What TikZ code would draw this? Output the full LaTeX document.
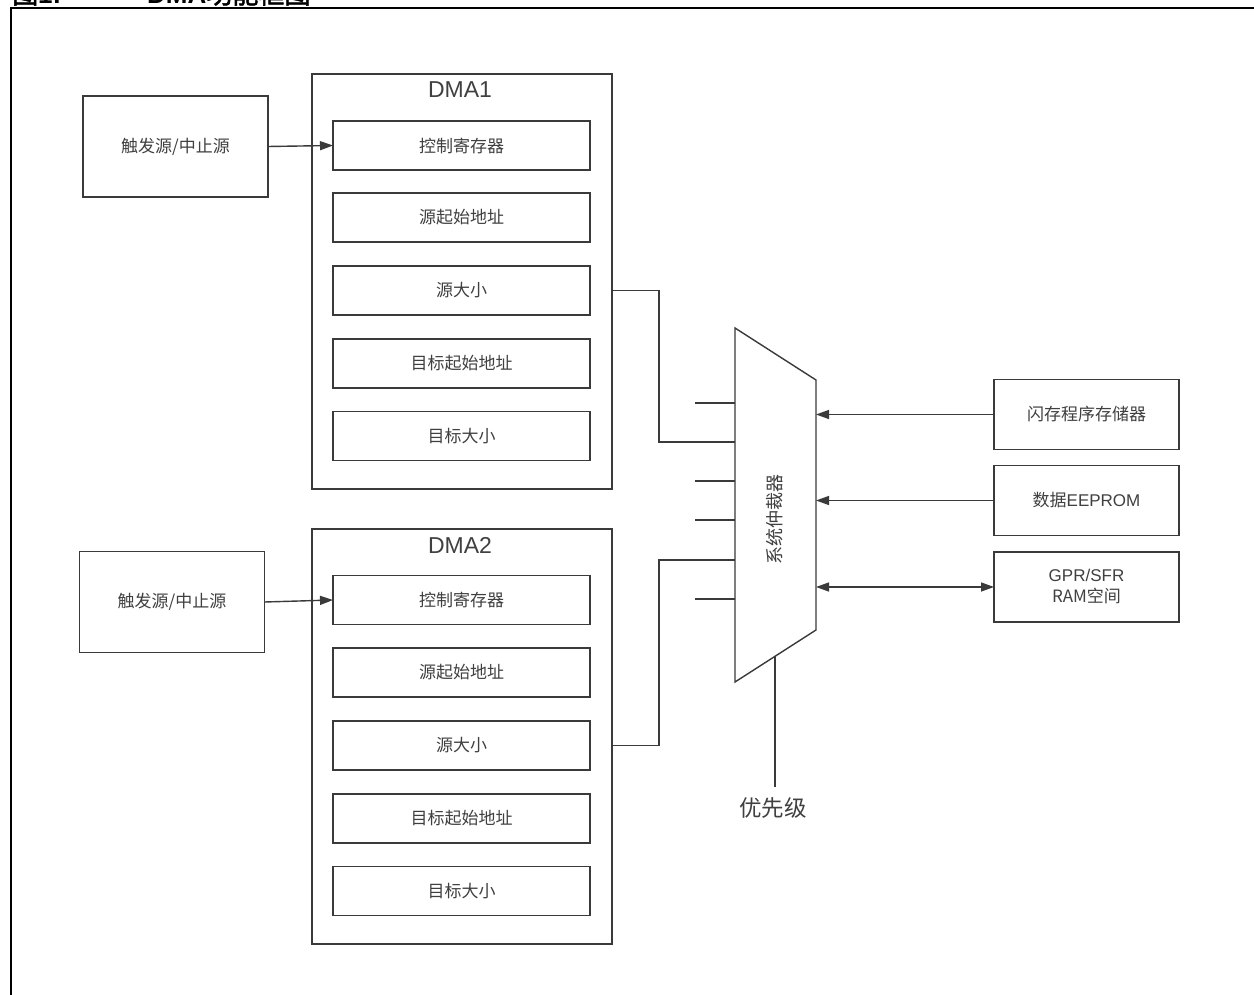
\documentclass[tikz,border=0pt]{standalone}
\usepackage{fontspec}
\setmainfont{Liberation Sans}
\newfontfamily\cjk{Noto Sans CJK SC}[AutoFakeBold=2]
\usetikzlibrary{arrows.meta}
\definecolor{mylinecolor}{HTML}{3a3a3a}
\definecolor{mytextcolor}{HTML}{404040}

\begin{document}
\begin{tikzpicture}[x=1pt, y=-1pt, >={Triangle[length=13pt,width=9pt]},
  box/.style={draw=mylinecolor, line width=1.4pt, fill=white, rectangle, inner sep=0pt, outer sep=0pt, text=mytextcolor, align=center, font=\fontsize{17pt}{21pt}\selectfont\cjk},
  srcbox/.style={box, minimum width=185pt, minimum height=101pt},
  dmabox/.style={draw=mylinecolor, line width=1.4pt, rectangle, inner sep=0pt, outer sep=0pt, minimum width=300pt, minimum height=415pt},
  regbox/.style={box, minimum width=257pt, minimum height=49pt},
  membox/.style={box, minimum width=185pt, minimum height=70pt},
  wire/.style={draw=mylinecolor, line width=1.4pt}]
\path[use as bounding box, clip] (0,0) rectangle (1254,995);%
\fill[white] (0,0) rectangle (1254,995);%
% title and frame
\node[anchor=base west, inner sep=0pt, font=\fontsize{26pt}{26pt}\selectfont\bfseries] (title1) at (12,3.5) {{\cjk 图}1:};%
\node[anchor=base west, inner sep=0pt, font=\fontsize{26pt}{26pt}\selectfont\bfseries] (title2) at (147,3.5) {DMA{\cjk 功能框图}};%
\draw[black, line width=2pt] (11,1000) -- (11,8.5) -- (1260,8.5);%
% DMA1
\node[srcbox] (trig1) at (175.5,146.5) {触发源/中止源};%
\node[dmabox] (dma1) at (462,281.5) {};%
\node[text=mytextcolor, font=\fontsize{23pt}{23pt}\selectfont] (dma1label) at (460,90) {DMA1};%
\node[regbox] (ctrl1) at (461.5,145.5) {控制寄存器};%
\node[regbox] (srcaddr1) at (461.5,217.5) {源起始地址};%
\node[regbox] (srcsize1) at (461.5,290.5) {源大小};%
\node[regbox] (dstaddr1) at (461.5,363.5) {目标起始地址};%
\node[regbox] (dstsize1) at (461.5,436) {目标大小};%
% DMA2
\node[srcbox] (trig2) at (172,602) {触发源/中止源};%
\node[dmabox] (dma2) at (462,736.5) {};%
\node[text=mytextcolor, font=\fontsize{23pt}{23pt}\selectfont] (dma2label) at (460,545) {DMA2};%
\node[regbox] (ctrl2) at (461.5,600) {控制寄存器};%
\node[regbox] (srcaddr2) at (461.5,672.5) {源起始地址};%
\node[regbox] (srcsize2) at (461.5,745.5) {源大小};%
\node[regbox] (dstaddr2) at (461.5,818.5) {目标起始地址};%
\node[regbox] (dstsize2) at (461.5,891) {目标大小};%
% arbiter
\coordinate (arbtl) at (735,328);%
\coordinate (arbtr) at (816,380);%
\coordinate (arbbr) at (816,630);%
\coordinate (arbbl) at (735,682);%
\draw[wire, fill=white] (arbtl) -- (arbtr) -- (arbbr) -- (arbbl) -- cycle;%
\node[rotate=90, text=mytextcolor, font=\fontsize{18pt}{18pt}\selectfont\cjk] (arblabel) at (775,519) {系统仲裁器};%
\foreach \y [count=\i] in {403,442,481,520,560,599} {%
  \coordinate (in\i) at (735,\y);%
  \coordinate (stub\i) at (695,\y);%
}%
\foreach \i in {1,3,4,6} \draw[wire] (in\i) -- (stub\i);%
% memories
\node[membox] (flash) at (1086.5,414.5) {闪存程序存储器};%
\node[membox] (eeprom) at (1086.5,500.5) {数据\fontspec{Liberation Sans}EEPROM};%
\node[membox] (ram) at (1086.5,587) {\fontspec{Liberation Sans}GPR/SFR\\RAM{\cjk 空间}};%
% priority
\coordinate (prio) at (775,656.3);%
\coordinate (prioend) at (775,787);%
\node[anchor=north, inner sep=0pt, text=mytextcolor, font=\fontsize{22.5pt}{22.5pt}\selectfont\cjk] (priolabel) at (773,797) {优先级};%
% connectors
\draw[wire, ->] (trig1.east) -- (ctrl1.west);%
\draw[wire, ->] (trig2.east) -- (ctrl2.west);%
\draw[wire] (dma1.east |- srcsize1.east) -- ++(47,0) |- (in2);%
\draw[wire] (dma2.east |- srcsize2.east) -- ++(47,0) |- (in5);%
\draw[wire, ->] (flash.west) -- (flash.west -| arbtr);%
\draw[wire, ->] (eeprom.west) -- (eeprom.west -| arbtr);%
\draw[wire, <->] (ram.west -| arbtr) -- (ram.west);%
\draw[wire] (prio) -- (prioend);%
\end{tikzpicture}
\end{document}
